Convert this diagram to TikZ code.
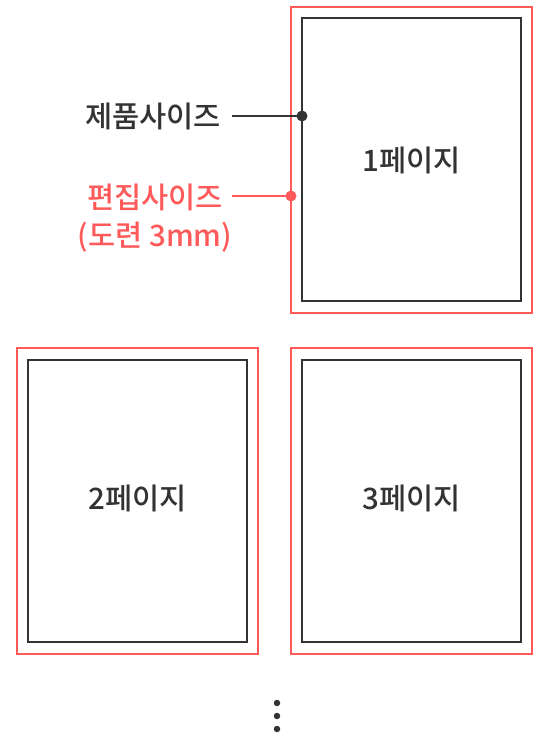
\documentclass[tikz,border=0pt]{standalone}
\usepackage{fontspec}
\setmainfont{Noto Sans CJK KR}[UprightFont={* Medium}]
\definecolor{redc}{HTML}{FF5A5A}
\definecolor{darkc}{HTML}{333333}
\begin{document}
\begin{tikzpicture}[x=1pt,y=-1pt,
  trim/.style={draw=redc,line width=2pt},
  page/.style={draw=darkc,line width=2pt},
  plabel/.style={font=\fontsize{29.5}{34}\selectfont,text=darkc},
  lbl/.style={font=\fontsize{29.5}{38.5}\selectfont,align=center,inner sep=0pt},
  dotc/.style={circle,fill=#1,inner sep=0pt,minimum size=11pt}]
\useasboundingbox (0,0) rectangle (550,740);
% page 1
\draw[trim] (291,7) rectangle (532,313);
\draw[page] (302,18) rectangle (521,301);
\node[plabel] (p1) at (411.5,160) {1페이지};
% page 2
\draw[trim] (17,348) rectangle (258,654);
\draw[page] (28,360) rectangle (247,642);
\node[plabel] (p2) at (137.5,498) {2페이지};
% page 3
\draw[trim] (291,348) rectangle (532,654);
\draw[page] (302,360) rectangle (521,642);
\node[plabel] (p3) at (411.5,498) {3페이지};
% labels
\node[lbl,text=darkc,anchor=east] (l1) at (221,116) {제품사이즈};
\node[lbl,text=redc] (l2) at (155,218) {편집사이즈\\(도련 3mm)};
\coordinate (c1) at (232,116);
\coordinate (c2) at (232,196);
\node[dotc=darkc] (d1) at (302,116) {};
\node[dotc=redc] (d2) at (291,196) {};
\draw[darkc,line width=1.6pt] (c1) -- (d1.center);
\draw[redc,line width=1.6pt] (c2) -- (d2.center);
% ellipsis
\node[dotc=darkc,minimum size=6.5pt] (e1) at (277,703) {};
\node[dotc=darkc,minimum size=6.5pt] (e2) at (277,716) {};
\node[dotc=darkc,minimum size=6.5pt] (e3) at (277,729) {};
\end{tikzpicture}
\end{document}
